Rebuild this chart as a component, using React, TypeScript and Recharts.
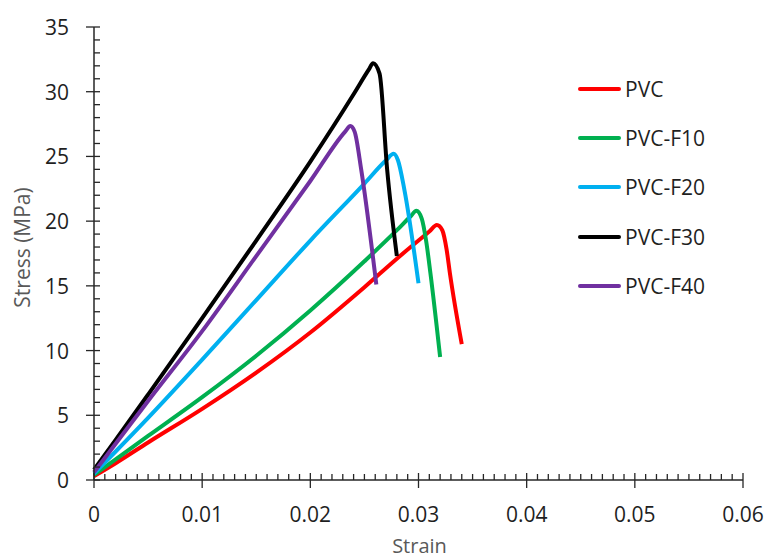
import React from "react";
import { LineChart, Line, XAxis, YAxis, Legend } from "recharts";

// strain / stress pairs
const pvcStrain = [0, 0.002, 0.005, 0.01, 0.015, 0.02, 0.025, 0.028, 0.03, 0.031, 0.0317, 0.0322, 0.0326, 0.0329, 0.034];
const pvcStress = [0.3, 1.3, 2.9, 5.5, 8.3, 11.4, 14.9, 17.1, 18.5, 19.2, 19.7, 19.3, 17.8, 16.0, 10.5];

const f10Strain = [0, 0.002, 0.005, 0.01, 0.015, 0.02, 0.025, 0.028, 0.0293, 0.0298, 0.0303, 0.0307, 0.0311, 0.032];
const f10Stress = [0.4, 1.6, 3.4, 6.4, 9.6, 13.1, 16.9, 19.3, 20.4, 20.8, 20.2, 18.5, 16.0, 9.5];

const f20Strain = [0, 0.002, 0.005, 0.01, 0.015, 0.02, 0.025, 0.027, 0.0277, 0.0281, 0.0287, 0.03];
const f20Stress = [0.5, 2.2, 4.8, 9.3, 13.9, 18.5, 22.9, 24.7, 25.2, 24.7, 22.4, 15.2];

const f30Strain = [0, 0.002, 0.005, 0.01, 0.015, 0.02, 0.024, 0.0254, 0.0258, 0.0264, 0.0271, 0.028];
const f30Stress = [0.8, 3.1, 6.6, 12.5, 18.5, 24.6, 29.8, 31.7, 32.2, 31.4, 24.0, 17.3];

const f40Strain = [0, 0.002, 0.005, 0.01, 0.015, 0.02, 0.0232, 0.0237, 0.0241, 0.0247, 0.0261];
const f40Stress = [0.6, 2.8, 6.1, 11.5, 17.3, 23.1, 26.9, 27.35, 26.9, 24.0, 15.1];

const seriesNames = ["PVC", "PVC-F10", "PVC-F20", "PVC-F30", "PVC-F40"];
const seriesColors = ["#ff0000", "#00b050", "#00b0f0", "#000000", "#7030a0"];

const xMajor = [0, 0.01, 0.02, 0.03, 0.04, 0.05, 0.06];
const xLabels = ["0", "0.01", "0.02", "0.03", "0.04", "0.05", "0.06"];
const yMajor = [0, 5, 10, 15, 20, 25, 30, 35];
const yLabels = ["0", "5", "10", "15", "20", "25", "30", "35"];

const toPoints = (xs: number[], ys: number[]) => xs.map((x, i) => ({ x, y: ys[i] }));
const series = [
  toPoints(pvcStrain, pvcStress),
  toPoints(f10Strain, f10Stress),
  toPoints(f20Strain, f20Stress),
  toPoints(f30Strain, f30Stress),
  toPoints(f40Strain, f40Stress),
];

// minor ticks: 10 per major step on x, 5 per major step on y
const xTicks: number[] = [];
for (let i = 0; i <= 60; i++) xTicks.push(i / 1000);
const yTicks: number[] = [];
for (let i = 0; i <= 35; i++) yTicks.push(i);

const FONT = "'Open Sans', sans-serif";
const TEXT = "#1f1f1f";
const AXIS = "#262626";

function XTick(props: any) {
  const { x, y, payload } = props;
  const idx = xMajor.findIndex((m) => Math.abs(m - payload.value) < 1e-9);
  const major = idx >= 0;
  return (
    <g>
      <line x1={x} x2={x} y1={major ? y - 7 : y - 6} y2={major ? y + 8 : y} stroke={AXIS} strokeWidth={1.3} />
      {major && (
        <text x={x} y={y + 34} textAnchor="middle" dominantBaseline="central" fontFamily={FONT} fontSize={21} fill={TEXT}>
          {xLabels[idx]}
        </text>
      )}
    </g>
  );
}

function YTick(props: any) {
  const { x, y, payload } = props;
  const idx = yMajor.indexOf(payload.value);
  const major = idx >= 0;
  return (
    <g>
      <line x1={major ? x - 8 : x} x2={x + 6} y1={y} y2={y} stroke={AXIS} strokeWidth={1.3} />
      {major && (
        <text x={x - 25} y={y} textAnchor="end" dominantBaseline="central" fontFamily={FONT} fontSize={21} fill={TEXT}>
          {yLabels[idx]}
        </text>
      )}
    </g>
  );
}

function LegendBox() {
  return (
    <div style={{ fontFamily: FONT, fontSize: 21, color: TEXT }}>
      {seriesNames.map((name, i) => (
        <div key={name} style={{ display: "flex", alignItems: "center", height: 49.3 }}>
          <span style={{ display: "inline-block", width: 43, height: 4, borderRadius: 2, background: seriesColors[i], marginRight: 4 }} />
          <span>{name}</span>
        </div>
      ))}
    </div>
  );
}

export default function App() {
  return (
    <div style={{ position: "absolute", left: 0, top: 0, width: 767, height: 559, background: "#fff" }}>
      <LineChart width={767} height={559} margin={{ top: 27, right: 24, bottom: 19, left: 34 }}>
        <XAxis
          dataKey="x"
          type="number"
          domain={[0, 0.06]}
          ticks={xTicks}
          interval={0}
          tick={<XTick />}
          tickLine={false}
          tickSize={0}
          tickMargin={0}
          height={60}
          axisLine={{ stroke: AXIS, strokeWidth: 1.5 }}
          label={{
            content: (p: any) => {
              const vb = p.viewBox;
              return (
                <text x={vb.x + vb.width / 2 + 1} y={vb.y + 65} textAnchor="middle" dominantBaseline="central" fontFamily={FONT} fontSize={20} fill="#595959">
                  Strain
                </text>
              );
            },
          }}
          allowDuplicatedCategory={false}
        />
        <YAxis
          dataKey="y"
          type="number"
          domain={[0, 35]}
          ticks={yTicks}
          interval={0}
          tick={<YTick />}
          tickLine={false}
          tickSize={0}
          tickMargin={0}
          width={60}
          axisLine={{ stroke: AXIS, strokeWidth: 1.5 }}
          label={{
            content: (p: any) => {
              const vb = p.viewBox;
              const cx = vb.x - 12;
              const cy = vb.y + vb.height / 2 - 6;
              return (
                <text x={cx} y={cy} transform={`rotate(-90 ${cx} ${cy})`} textAnchor="middle" dominantBaseline="central" fontFamily={FONT} fontSize={21} fill="#595959">
                  Stress (MPa)
                </text>
              );
            },
          }}
        />
        <Legend
          layout="vertical"
          align="center"
          verticalAlign="middle"
          wrapperStyle={{ left: 578, top: 64, width: 180 }}
          content={() => <LegendBox />}
        />
        {series.map((d, i) => (
          <Line
            key={seriesNames[i]}
            data={d}
            dataKey="y"
            name={seriesNames[i]}
            type="monotone"
            stroke={seriesColors[i]}
            strokeWidth={4}
            dot={false}
            activeDot={false}
            isAnimationActive={false}
          />
        ))}
      </LineChart>
    </div>
  );
}
